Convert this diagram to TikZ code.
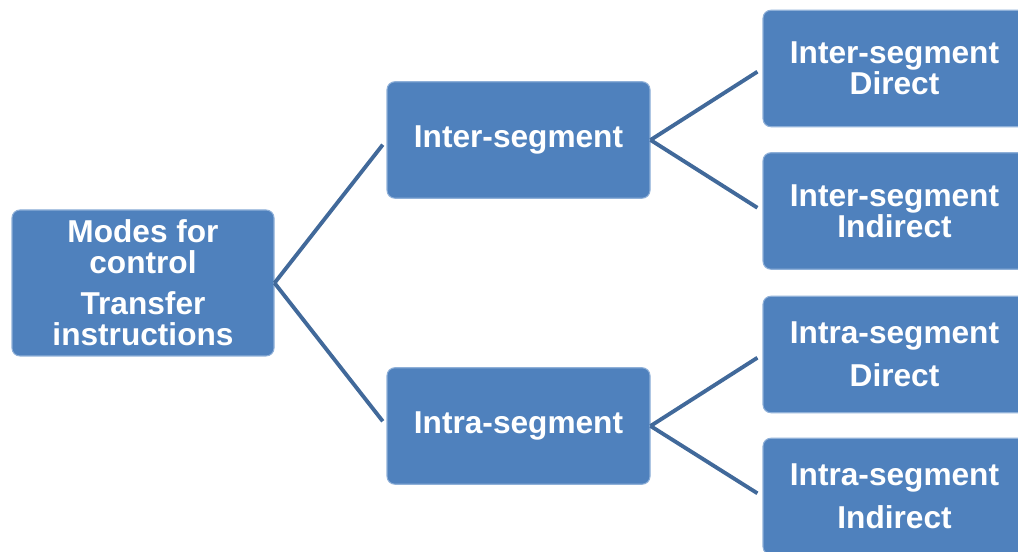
\documentclass[tikz,border=0pt]{standalone}
\usepackage{fontspec}
\setmainfont{Liberation Sans}
\usetikzlibrary{positioning}
\definecolor{boxblue}{HTML}{4F81BD}
\definecolor{rimblue}{HTML}{8FB0D8}
\definecolor{linkblue}{HTML}{41699A}
\tikzset{
  modebox/.style={draw=rimblue, line width=0.6pt, rounded corners=4.5pt, fill=boxblue, text=white, align=center, font=\bfseries\fontsize{18}{17.5}\selectfont, minimum width=5.26cm, minimum height=2.33cm, inner sep=2pt},
  link/.style={draw=linkblue, line width=2.2pt, shorten >=0.12cm}
}
\begin{document}
\begin{tikzpicture}
  \useasboundingbox (0,0) rectangle (20.36,11.04);
  \node[modebox, minimum width=5.24cm, minimum height=2.92cm] (modes) at (2.86,5.38) {Modes for\\control\\[6pt]Transfer\\instructions};
  \node[modebox] (inter) at (10.37,8.24) {Inter-segment};
  \node[modebox] (intra) at (10.37,2.52) {Intra-segment};
  \node[modebox] (interdir) at (17.89,9.67) {Inter-segment\\Direct};
  \node[modebox] (interind) at (17.89,6.82) {Inter-segment\\Indirect};
  \node[modebox] (intradir) at (17.89,3.95) {Intra-segment\\[7pt]Direct};
  \node[modebox] (intraind) at (17.89,1.11) {Intra-segment\\[7pt]Indirect};

  \draw[link] (modes.east) -- (inter.west);
  \draw[link] (modes.east) -- (intra.west);
  \draw[link] (inter.east) -- (interdir.west);
  \draw[link] (inter.east) -- (interind.west);
  \draw[link] (intra.east) -- (intradir.west);
  \draw[link] (intra.east) -- (intraind.west);
\end{tikzpicture}
\end{document}
